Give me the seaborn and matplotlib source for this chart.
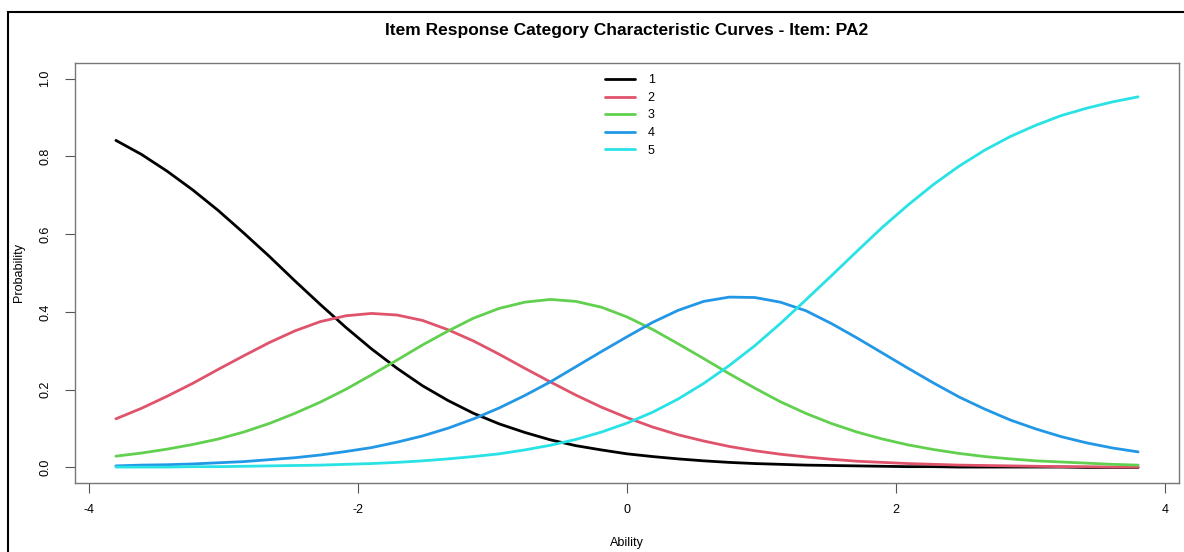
import numpy as np
import pandas as pd
import matplotlib
matplotlib.use("Agg")
import matplotlib.pyplot as plt
from matplotlib.patches import Rectangle
import seaborn as sns

# ability grid and category probabilities
theta = [-3.8, -3.61, -3.42, -3.23, -3.04, -2.85, -2.66, -2.47, -2.28, -2.09, -1.9,
         -1.71, -1.52, -1.33, -1.14, -0.95, -0.76, -0.57, -0.38, -0.19, 0.0,
         0.19, 0.38, 0.57, 0.76, 0.95, 1.14, 1.33, 1.52, 1.71, 1.9,
         2.09, 2.28, 2.47, 2.66, 2.85, 3.04, 3.23, 3.42, 3.61, 3.8]
cat1 = [0.841, 0.805, 0.762, 0.714, 0.661, 0.603, 0.543, 0.480, 0.419, 0.360, 0.305,
        0.255, 0.210, 0.172, 0.139, 0.112, 0.090, 0.071, 0.056, 0.045, 0.035,
        0.028, 0.022, 0.017, 0.013, 0.010, 0.008, 0.006, 0.005, 0.004, 0.003,
        0.002, 0.002, 0.001, 0.001, 0.001, 0.001, 0.001, 0.000, 0.000, 0.000]
cat2 = [0.125, 0.152, 0.183, 0.216, 0.252, 0.287, 0.321, 0.351, 0.375, 0.390, 0.396,
        0.392, 0.378, 0.354, 0.325, 0.291, 0.255, 0.220, 0.186, 0.155, 0.128,
        0.104, 0.084, 0.068, 0.054, 0.043, 0.034, 0.027, 0.021, 0.016, 0.013,
        0.010, 0.008, 0.006, 0.005, 0.004, 0.003, 0.002, 0.002, 0.001, 0.001]
cat3 = [0.029, 0.037, 0.047, 0.059, 0.073, 0.091, 0.113, 0.139, 0.168, 0.201, 0.238,
        0.276, 0.315, 0.351, 0.384, 0.409, 0.425, 0.432, 0.427, 0.412, 0.387,
        0.355, 0.318, 0.280, 0.241, 0.204, 0.169, 0.139, 0.113, 0.091, 0.073,
        0.058, 0.046, 0.036, 0.028, 0.022, 0.017, 0.014, 0.011, 0.008, 0.006]
cat4 = [0.004, 0.006, 0.007, 0.009, 0.012, 0.015, 0.020, 0.025, 0.032, 0.041, 0.051,
        0.065, 0.081, 0.101, 0.125, 0.153, 0.185, 0.220, 0.259, 0.298, 0.336,
        0.373, 0.404, 0.427, 0.438, 0.437, 0.425, 0.403, 0.370, 0.333, 0.294,
        0.255, 0.217, 0.181, 0.150, 0.122, 0.099, 0.079, 0.063, 0.050, 0.040]
cat5 = [0.001, 0.001, 0.001, 0.002, 0.002, 0.003, 0.004, 0.005, 0.006, 0.008, 0.010,
        0.013, 0.017, 0.022, 0.028, 0.035, 0.045, 0.057, 0.072, 0.091, 0.114,
        0.142, 0.176, 0.216, 0.262, 0.313, 0.370, 0.431, 0.493, 0.556, 0.618,
        0.675, 0.728, 0.775, 0.816, 0.851, 0.880, 0.905, 0.924, 0.940, 0.953]
categories = ["1", "2", "3", "4", "5"]
colors = ["#000000", "#DF536B", "#61D04F", "#2297E6", "#28E2E5"]

frames = []
for cat, vals in zip(categories, [cat1, cat2, cat3, cat4, cat5]):
    frames.append(pd.DataFrame({"Ability": theta, "Probability": vals, "Category": cat}))
df = pd.concat(frames, ignore_index=True)

sns.set_style("white")
plt.rcParams['font.family'] = ['Liberation Sans', 'DejaVu Sans']
plt.rcParams['text.color'] = 'black'
plt.rcParams['axes.labelcolor'] = 'black'
plt.rcParams['xtick.labelcolor'] = 'black'
plt.rcParams['ytick.labelcolor'] = 'black'

fig = plt.figure(figsize=(11.84, 5.52), dpi=100)
ax = fig.add_axes([75 / 1184, 69 / 552, 1104 / 1184, 420 / 552])

sns.lineplot(data=df, x="Ability", y="Probability", hue="Category",
             palette=dict(zip(categories, colors)), linewidth=2, ax=ax)

ax.set_xlim(-4.104, 4.104)
ax.set_ylim(-0.04, 1.04)
ax.set_xticks([-4, -2, 0, 2, 4])
ax.set_xticklabels(["-4", "-2", "0", "2", "4"])
ax.set_yticks([0, 0.2, 0.4, 0.6, 0.8, 1.0])
ax.set_yticklabels(["0.0", "0.2", "0.4", "0.6", "0.8", "1.0"], rotation=90, va="center")
ax.tick_params(axis="both", direction="out", length=7, width=0.8, color="#555555",
               labelsize=9, labelcolor="black", left=True, bottom=True)
ax.tick_params(axis="x", pad=8)
ax.tick_params(axis="y", pad=10)
for sp in ax.spines.values():
    sp.set_color("#777777")
    sp.set_linewidth(1)

ax.set_xlabel("Ability", fontsize=9, labelpad=15, color="black")
ax.set_ylabel("Probability", fontsize=9, labelpad=10, color="black")
ax.set_title("Item Response Category Characteristic Curves - Item: PA2",
             fontsize=12.5, fontweight="bold", pad=20, color="black")

handles, labels = ax.get_legend_handles_labels()
leg = ax.legend(handles, labels, loc="upper center", bbox_to_anchor=(0.5026, 1.0),
                frameon=False, fontsize=9, handlelength=2.4, handletextpad=1.0,
                labelspacing=0.45)
for t in leg.get_texts():
    t.set_color("black")

# outer window frame
fig.patches.append(Rectangle((8 / 1184, -0.5), 1.5, 0.5 + (1 - 12 / 552), fill=False,
                             edgecolor="black", linewidth=1.5, transform=fig.transFigure))

fig.savefig("out.png", dpi=100)
